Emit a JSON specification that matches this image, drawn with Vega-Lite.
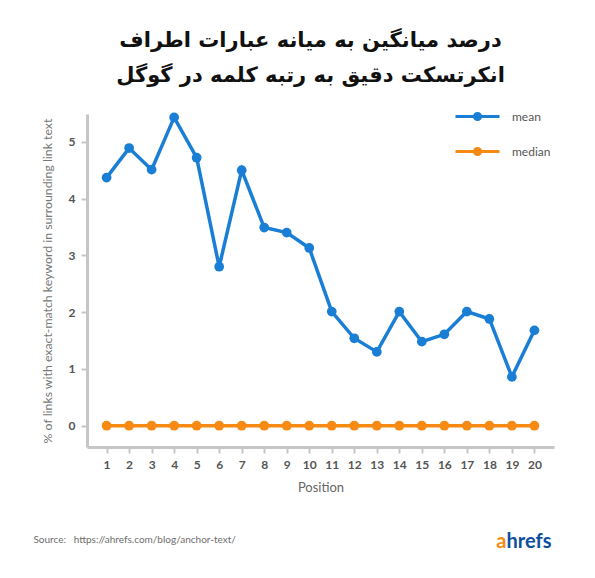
{
  "$schema": "https://vega.github.io/schema/vega-lite/v6.json",
  "width": 467,
  "height": 333,
  "autosize": "none",
  "padding": {"left": 87, "top": 114, "right": 41, "bottom": 131},
  "background": "white",
  "config": {
    "view": {"stroke": null},
    "font": "Lato",
    "axisX": {"tickCount": 20, "format": "d", "labelOverlap": false, "labelFlush": false},
    "axisY": {"tickCount": 6, "format": "d", "labelOverlap": false}
  },
  "title": {
    "text": ["درصد میانگین به میانه عبارات اطراف", "انکرتسکت دقیق به رتبه کلمه در گوگل"],
    "font": "DejaVu Sans",
    "fontSize": 21,
    "fontWeight": "bold",
    "color": "#111111",
    "anchor": "middle",
    "lineHeight": 35,
    "offset": 7,
    "dx": -10
  },
  "layer": [
    {
      "data": {
        "values": [
          {"position": 1, "series": "mean", "value": 4.37},
          {"position": 2, "series": "mean", "value": 4.89},
          {"position": 3, "series": "mean", "value": 4.51},
          {"position": 4, "series": "mean", "value": 5.43},
          {"position": 5, "series": "mean", "value": 4.72},
          {"position": 6, "series": "mean", "value": 2.8},
          {"position": 7, "series": "mean", "value": 4.5},
          {"position": 8, "series": "mean", "value": 3.49},
          {"position": 9, "series": "mean", "value": 3.4},
          {"position": 10, "series": "mean", "value": 3.13},
          {"position": 11, "series": "mean", "value": 2.01},
          {"position": 12, "series": "mean", "value": 1.54},
          {"position": 13, "series": "mean", "value": 1.3},
          {"position": 14, "series": "mean", "value": 2.01},
          {"position": 15, "series": "mean", "value": 1.48},
          {"position": 16, "series": "mean", "value": 1.61},
          {"position": 17, "series": "mean", "value": 2.01},
          {"position": 18, "series": "mean", "value": 1.88},
          {"position": 19, "series": "mean", "value": 0.86},
          {"position": 20, "series": "mean", "value": 1.68},
          {"position": 1, "series": "median", "value": 0},
          {"position": 2, "series": "median", "value": 0},
          {"position": 3, "series": "median", "value": 0},
          {"position": 4, "series": "median", "value": 0},
          {"position": 5, "series": "median", "value": 0},
          {"position": 6, "series": "median", "value": 0},
          {"position": 7, "series": "median", "value": 0},
          {"position": 8, "series": "median", "value": 0},
          {"position": 9, "series": "median", "value": 0},
          {"position": 10, "series": "median", "value": 0},
          {"position": 11, "series": "median", "value": 0},
          {"position": 12, "series": "median", "value": 0},
          {"position": 13, "series": "median", "value": 0},
          {"position": 14, "series": "median", "value": 0},
          {"position": 15, "series": "median", "value": 0},
          {"position": 16, "series": "median", "value": 0},
          {"position": 17, "series": "median", "value": 0},
          {"position": 18, "series": "median", "value": 0},
          {"position": 19, "series": "median", "value": 0},
          {"position": 20, "series": "median", "value": 0}
        ]
      },
      "mark": {"type": "line", "strokeWidth": 3.5, "point": {"filled": true, "size": 95, "opacity": 1}},
      "encoding": {
        "x": {
          "field": "position",
          "type": "quantitative",
          "scale": {"domain": [0.13, 20.87], "nice": false, "zero": false},
          "axis": {
            "values": [1,2,3,4,5,6,7,8,9,10,11,12,13,14,15,16,17,18,19,20],
            "format": "d",
            "grid": false,
            "title": "Position",
            "domainColor": "#c6c6c6",
            "domainWidth": 3,
            "tickColor": "#c6c6c6",
            "tickWidth": 2,
            "tickSize": 6,
            "labelFont": "Lato",
            "labelFontWeight": "bold",
            "labelFontSize": 12,
            "labelColor": "#555555",
            "labelPadding": 6,
            "labelFlush": false,
            "labelOverlap": false,
            "titleFont": "Lato",
            "titleFontWeight": "normal",
            "titleFontSize": 13,
            "titleColor": "#666666",
            "titlePadding": 11
          }
        },
        "y": {
          "field": "value",
          "type": "quantitative",
          "scale": {"domain": [-0.375, 5.49], "nice": false, "zero": false},
          "axis": {
            "values": [0,1,2,3,4,5],
            "format": "d",
            "grid": false,
            "title": "% of links with exact-match keyword in surrounding link text",
            "domainColor": "#c6c6c6",
            "domainWidth": 3,
            "tickColor": "#c6c6c6",
            "tickWidth": 2,
            "tickSize": 6,
            "labelFont": "Lato",
            "labelFontWeight": "bold",
            "labelFontSize": 12,
            "labelColor": "#555555",
            "labelPadding": 6,
            "titleFont": "Lato",
            "titleFontWeight": "normal",
            "titleFontSize": 12.3,
            "titleColor": "#777777",
            "titlePadding": 14
          }
        },
        "color": {
          "field": "series",
          "type": "nominal",
          "scale": {"domain": ["mean", "median"], "range": ["#1a7fd4", "#f68a12"]},
          "legend": {
            "orient": "none",
            "legendX": 367,
            "legendY": -21,
            "title": null,
            "symbolType": "M-1,0H1M-0.14,0A0.14,0.14 0 1,0 0.14,0A0.14,0.14 0 1,0 -0.14,0Z",
            "symbolSize": 1936,
            "symbolStrokeWidth": 3,
            "labelFont": "Lato",
            "labelFontSize": 12,
            "labelColor": "#555555",
            "labelOffset": 11,
            "rowPadding": 2,
            "encode": {"symbols": {"update": {"fill": {"scale": "color", "field": "value"}, "opacity": {"value": 1}}}}
          }
        }
      }
    },
    {
      "data": {"values": [{}]},
      "mark": {"type": "text", "align": "left", "baseline": "middle", "font": "Lato", "fontWeight": "normal", "fontSize": 10, "color": "#6e6e6e"},
      "encoding": {
        "x": {"datum": -2.25, "type": "quantitative"},
        "y": {"datum": -2.02, "type": "quantitative"},
        "text": {"value": "Source:\u00a0\u00a0\u00a0https://ahrefs.com/blog/anchor-text/"}
      }
    },
    {
      "data": {"values": [{}]},
      "mark": {"type": "text", "align": "right", "baseline": "middle", "font": "Lato", "fontWeight": "bold", "fontSize": 20, "color": "#f68a12"},
      "encoding": {
        "x": {"datum": 18.76, "type": "quantitative"},
        "y": {"datum": -2.04, "type": "quantitative"},
        "text": {"value": "a"}
      }
    },
    {
      "data": {"values": [{}]},
      "mark": {"type": "text", "align": "left", "baseline": "middle", "font": "Lato", "fontWeight": "bold", "fontSize": 20, "color": "#0b4f9c"},
      "encoding": {
        "x": {"datum": 18.76, "type": "quantitative"},
        "y": {"datum": -2.04, "type": "quantitative"},
        "text": {"value": "hrefs"}
      }
    }
  ]
}
